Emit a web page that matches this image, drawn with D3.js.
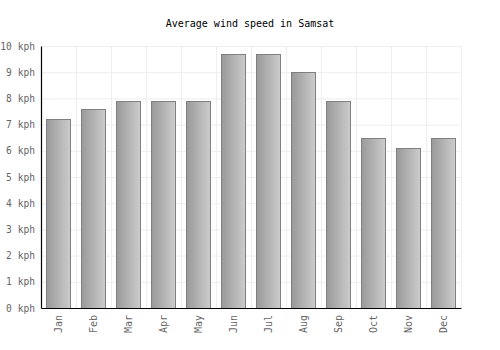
<!DOCTYPE html>
<html><head><meta charset="utf-8">
<script src="https://cdn.jsdelivr.net/npm/d3@7"></script>
<style>body{margin:0;background:#fff}svg{display:block}</style>
</head><body>
<script>
const months = ["Jan","Feb","Mar","Apr","May","Jun","Jul","Aug","Sep","Oct","Nov","Dec"];
const speeds = [7.2,7.6,7.9,7.9,7.9,9.7,9.7,9.0,7.9,6.5,6.1,6.5];
const yTicks = [0,1,2,3,4,5,6,7,8,9,10];
const title = "Average wind speed in Samsat";

const W=500,H=350, m={l:41,r:39,t:46,b:42};
const svg=d3.select("body").append("svg").attr("width",W).attr("height",H);
const defs=svg.append("defs");
const g1=defs.append("linearGradient").attr("id","bg").attr("x1","0").attr("x2","1").attr("y1","0").attr("y2","0");
g1.append("stop").attr("offset","0").attr("stop-color","#999999");
g1.append("stop").attr("offset","1").attr("stop-color","#cccccc");

const x=d3.scaleBand().domain(months).range([m.l,W-m.r]).paddingInner(0.31).paddingOuter(0.155);
const xb=d3.scaleBand().domain(months).range([m.l,W-m.r]);
const y=d3.scaleLinear().domain([0,10]).range([H-m.b,m.t]);
const font="'DejaVu Sans Mono', monospace";

// grid
svg.append("g").selectAll("line").data(yTicks).join("line")
  .attr("x1",m.l).attr("x2",W-m.r).attr("y1",d=>y(d)+0.5).attr("y2",d=>y(d)+0.5)
  .attr("stroke","#eeeeee");
svg.append("g").selectAll("line").data(months.slice(1).concat(["end"])).join("line")
  .attr("x1",(d,i)=>i<11?xb(d)+0.5:W-m.r+0.5).attr("x2",(d,i)=>i<11?xb(d)+0.5:W-m.r+0.5)
  .attr("y1",m.t).attr("y2",H-m.b).attr("stroke","#eeeeee");

// bars
svg.append("g").selectAll("rect").data(speeds).join("rect")
  .attr("x",(d,i)=>Math.round(x(months[i]))+0.5).attr("width",Math.round(x.bandwidth()))
  .attr("y",d=>Math.round(y(d))+0.5).attr("height",d=>Math.round(y(0))-Math.round(y(d)))
  .attr("fill","url(#bg)").attr("stroke","#808080").attr("stroke-width",1);

// axes
const ya=svg.append("g").attr("transform",`translate(${m.l},0)`)
  .call(d3.axisLeft(y).tickValues(yTicks).tickSize(0).tickPadding(6).tickFormat(d=>d+" kph"));
ya.select(".domain").attr("stroke","#000").attr("stroke-width",1.2);
ya.selectAll("text").attr("font-family",font).attr("font-size",9.6).attr("fill","#666");

const xa=svg.append("g").attr("transform",`translate(0,${H-m.b})`)
  .call(d3.axisBottom(x).tickSize(0).tickPadding(0));
xa.select(".domain").attr("stroke","#000").attr("stroke-width",1.2);
xa.selectAll("text").attr("font-family",font).attr("font-size",10).attr("fill","#666")
  .attr("transform","rotate(-90)").attr("text-anchor","end").attr("dy","0.35em").attr("x",-7).attr("y",0);

svg.append("text").attr("x",250).attr("y",27).attr("text-anchor","middle")
  .attr("font-family",font).attr("font-size",10).attr("fill","#000").text(title);
</script>
</body></html>
